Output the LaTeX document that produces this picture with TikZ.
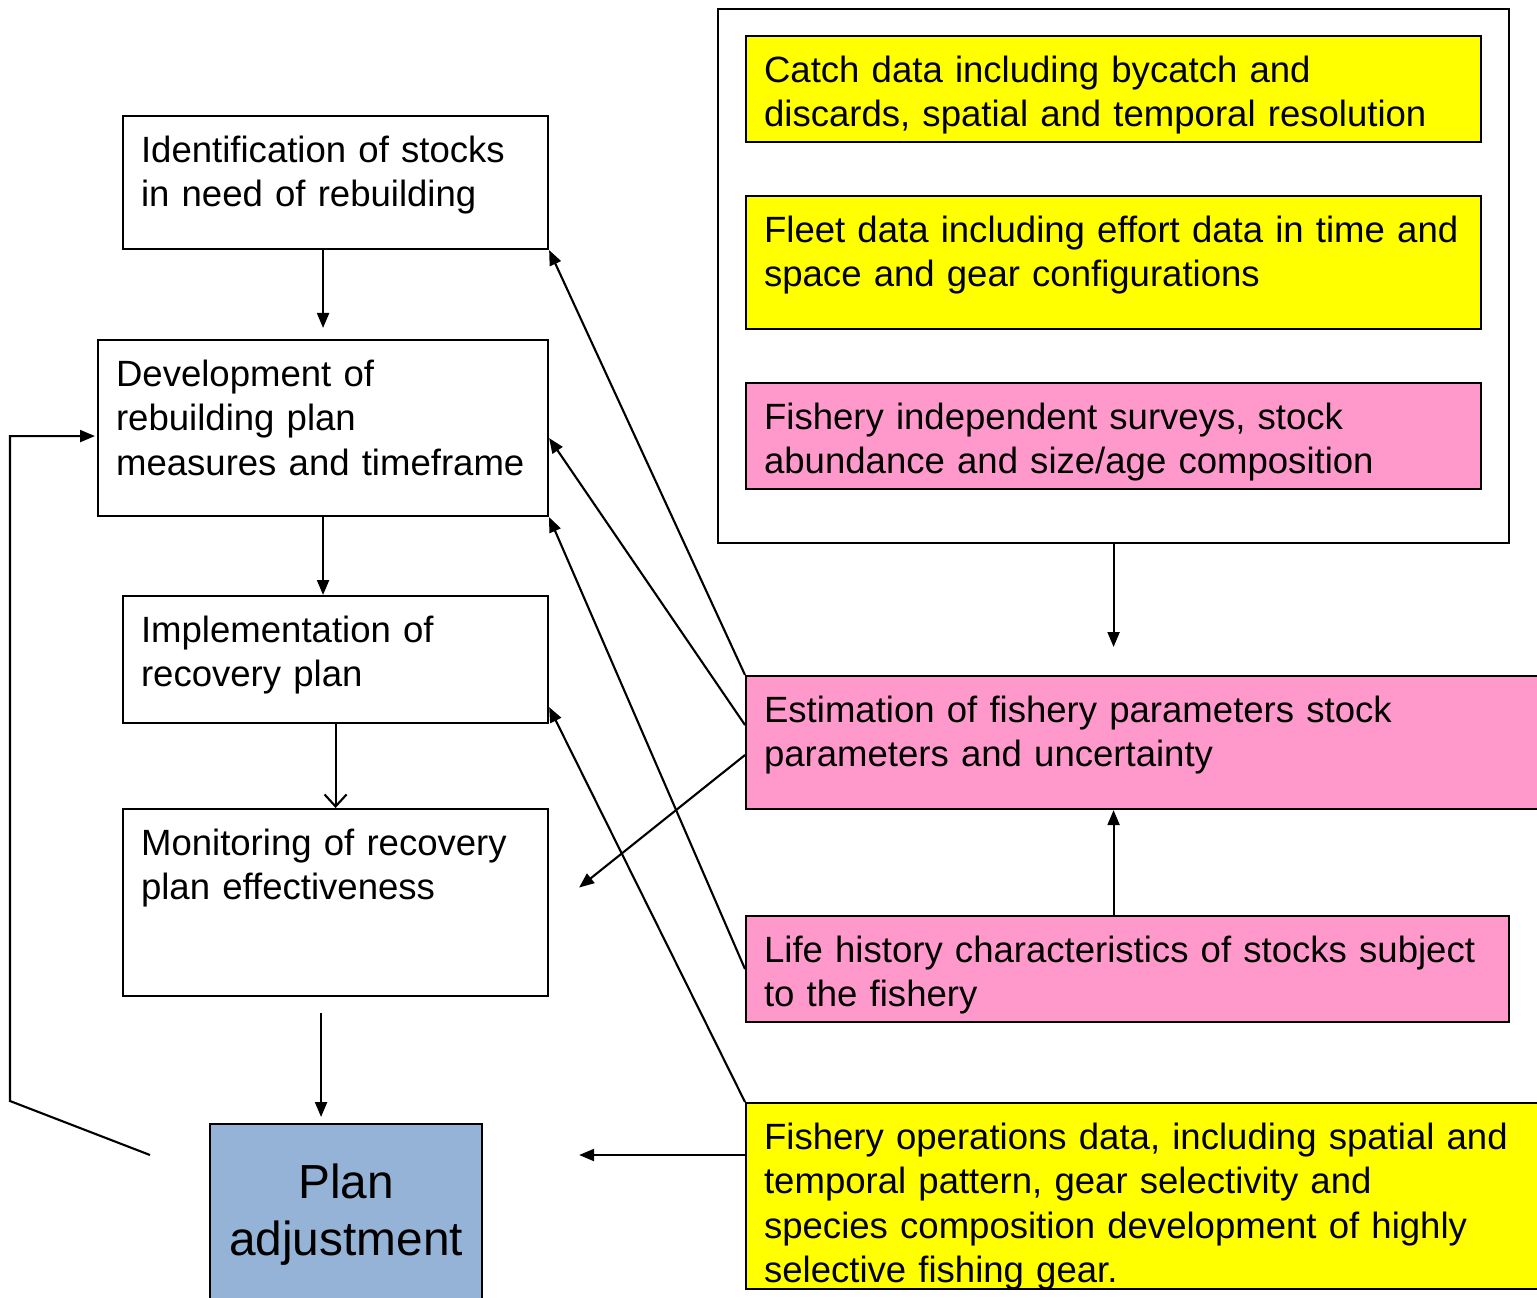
\documentclass[tikz,border=0pt]{standalone}
\usepackage{fontspec}
\setmainfont{Liberation Sans}
\usetikzlibrary{arrows.meta}

\definecolor{boxyellow}{HTML}{FFFF00}
\definecolor{boxpink}{HTML}{FF99CC}
\definecolor{planblue}{HTML}{95B3D7}

\begin{document}
\begin{tikzpicture}[>={Triangle[length=0.15cm,width=0.12cm]}, line width=0.6pt,
    box/.style={draw, anchor=north west, align=left, inner xsep=0.18cm, inner ysep=0.1cm,
        text height=0.36cm, font=\fontsize{10.4}{12.66}\selectfont},
    yellowbox/.style={box, fill=boxyellow},
    pinkbox/.style={box, fill=boxpink},
    openarrow/.style={-{Straight Barb[length=0.12cm,width=0.22cm]}}]

    \useasboundingbox (0,0) rectangle (15.37,-12.97);

    % --- Steps of the plan on the left ---
    \node[box, text width=3.89cm, text depth=0.77cm] (ident) at (1.22,-1.15)
        {Identification of stocks\\in need of rebuilding};
    \node[box, text width=4.14cm, text depth=1.20cm] (devel) at (0.97,-3.39)
        {Development of\\rebuilding plan\\measures and timeframe};
    \node[box, text width=3.89cm, text depth=0.71cm] (implem) at (1.22,-5.95)
        {Implementation of\\recovery plan};
    \node[box, text width=3.89cm, text depth=1.31cm] (monit) at (1.22,-8.08)
        {Monitoring of recovery\\plan effectiveness};

    % Plan adjustment, running off the bottom edge
    \node[draw, fill=planblue, anchor=north west, minimum width=2.72cm, minimum height=1.82cm,
        align=center, font=\fontsize{13.6}{16.2}\selectfont] (plan) at (2.09,-11.23)
        {Plan\\adjustment};

    % --- Data sources on the right ---
    \node[draw, anchor=north west, minimum width=7.91cm, minimum height=5.34cm] (databox) at (7.17,-0.08) {};
    \node[yellowbox, text width=6.99cm, text depth=0.50cm] (catch) at (7.45,-0.35)
        {Catch data including bycatch and\\discards, spatial and temporal resolution};
    \node[yellowbox, text width=6.99cm, text depth=0.77cm] (fleet) at (7.45,-1.95)
        {Fleet data including effort data in time and\\space and gear configurations};
    \node[pinkbox, text width=6.99cm, text depth=0.50cm] (survey) at (7.45,-3.82)
        {Fishery independent surveys, stock\\abundance and size/age composition};

    \node[pinkbox, text width=7.56cm, text depth=0.77cm] (estim) at (7.45,-6.75)
        {Estimation of fishery parameters stock\\parameters and uncertainty};
    \node[pinkbox, text width=7.27cm, text depth=0.50cm] (life) at (7.45,-9.15)
        {Life history characteristics of stocks subject\\to the fishery};
    \node[yellowbox, text width=7.56cm, text depth=1.30cm] (ops) at (7.45,-11.02)
        {Fishery operations data, including spatial and\\temporal pattern, gear selectivity and\\species composition development of highly\\selective fishing gear.};

    % --- Arrows down the left column ---
    \draw[->, shorten >=0.11cm] (ident.south -| devel.north) -- (devel.north);
    \draw[->] (devel.south) -- (devel.south |- implem.north);
    \draw[openarrow] (implem.south) -- (monit.north);
    \draw[->, shorten <=0.16cm, shorten >=0.06cm] ([xshift=-0.145cm]monit.south) -- ([xshift=-0.145cm]monit.south |- plan.north);

    % Feedback from plan adjustment back to development
    \coordinate (fbstart) at (1.50,-11.55);
    \draw[->] (fbstart) -- (0.10,-11.01) |- ([xshift=-0.02cm,yshift=-0.08cm]devel.west);

    % --- Arrows on the right ---
    \draw[->, shorten >=0.28cm] (databox.south) -- (databox.south |- estim.north);
    \draw[->] (life.north -| databox.south) -- (estim.south -| databox.south);
    \draw[->, shorten >=0.96cm] ([yshift=-0.53cm]ops.north west) -- ([yshift=-0.53cm]ops.north west -| plan.east);

    % --- Arrows crossing to the steps ---
    \draw[->] (estim.north west) -- (ident.south east);
    \draw[->] ([yshift=-0.50cm]estim.north west) -- ([yshift=-0.10cm]devel.east);
    \draw[->] ([yshift=-0.80cm]estim.north west) -- ([xshift=0.30cm,yshift=0.15cm]monit.east);
    \draw[->] (life.west) -- (devel.south east);
    \draw[->] (ops.north west) -- ([yshift=0.17cm]implem.south east);
\end{tikzpicture}
\end{document}
